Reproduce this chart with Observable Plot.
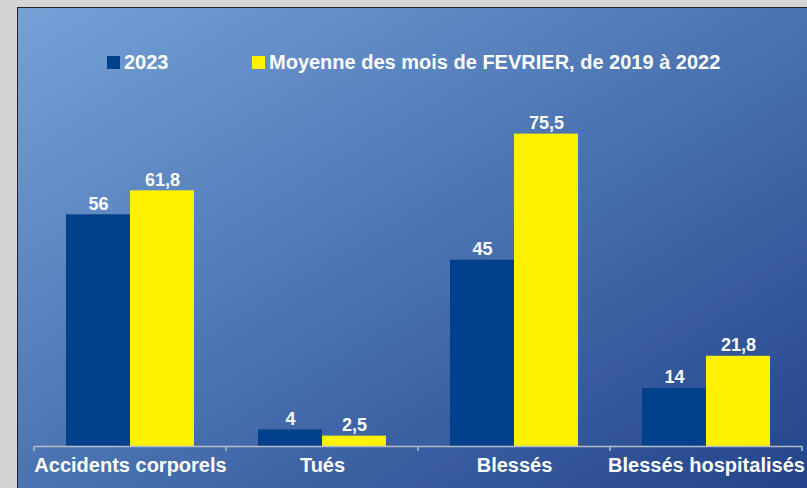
<!DOCTYPE html>
<html>
<head>
<meta charset="utf-8">
<script src="https://cdn.jsdelivr.net/npm/d3@7"></script>
<script src="https://cdn.jsdelivr.net/npm/@observablehq/plot@0.6"></script>
<style>
  html, body { margin: 0; padding: 0; }
  body { width: 807px; height: 488px; background: #d4d4d4; position: relative; overflow: hidden; font-family: "Liberation Sans", Arial, sans-serif; }
  #panel { position: absolute; left: 17px; top: 7px; width: 800px; height: 490px; border-left: 1px solid #222; border-top: 1px solid #222;
    background: linear-gradient(to bottom right, #74a2d7, #21428a); }
  #chart { position: absolute; left: 0; top: 0; }
  .leg { position: absolute; top: 51px; height: 22px; display: flex; align-items: center; color: #fff; font-weight: bold; font-size: 20px; white-space: nowrap; }
  .sw { width: 13px; height: 13px; margin-right: 4px; }
</style>
</head>
<body>
<div id="panel"></div>
<div id="chart"></div>
<div class="leg" style="left:107px"><div class="sw" style="background:#01408a"></div>2023</div>
<div class="leg" style="left:252px"><div class="sw" style="background:#fff200"></div>Moyenne des mois de FEVRIER, de 2019 à 2022</div>
<script>
const categories = ["Accidents corporels", "Tués", "Blessés", "Blessés hospitalisés"];
const seriesNames = ["2023", "Moyenne des mois de FEVRIER, de 2019 à 2022"];
const values2023 = [56, 4, 45, 14];
const valuesMoyenne = [61.8, 2.5, 75.5, 21.8];
const colors = ["#01408a", "#fff200"];

const data = [];
categories.forEach((c, i) => {
  data.push({cat: c, series: seriesNames[0], value: values2023[i]});
  data.push({cat: c, series: seriesNames[1], value: valuesMoyenne[i]});
});
const fmt = v => String(v).replace(".", ",");

const plot = Plot.plot({
  width: 807,
  height: 488,
  marginLeft: 33,
  marginRight: 4,
  marginTop: 115,
  marginBottom: 42,
  style: {background: "transparent", fontFamily: "Liberation Sans, Arial, sans-serif", overflow: "visible"},
  fx: {domain: categories, padding: 0, axis: null},
  x: {domain: seriesNames, paddingInner: 0, paddingOuter: 0.492, axis: null},
  y: {domain: [0, 80], axis: null},
  color: {domain: seriesNames, range: colors},
  marks: [
    Plot.barY(data, {fx: "cat", x: "series", y: "value", fill: "series", inset: 0}),
    Plot.text(data, {fx: "cat", x: "series", y: "value", text: d => fmt(d.value), dy: -11, lineAnchor: "middle",
      fill: "white", fontSize: 18, fontWeight: "bold"}),
    Plot.ruleY([0], {stroke: "#b4bccb", strokeWidth: 1.5}),
    Plot.axisFx({anchor: "bottom", tickSize: 0, tickPadding: 11, fontSize: 20, fontWeight: "bold", fill: "white", label: null})
  ]
});
document.getElementById("chart").appendChild(plot);

// boundary ticks between categories, from the fx scale
const fx = plot.scale("fx");
const y = plot.scale("y");
const y0 = y.apply(0);
const bounds = categories.map(c => fx.apply(c)).concat([fx.apply(categories[categories.length - 1]) + fx.bandwidth]);
d3.select(plot).append("g")
  .selectAll("line").data(bounds).join("line")
  .attr("x1", d => d).attr("x2", d => d)
  .attr("y1", y0).attr("y2", y0 + 5)
  .attr("stroke", "#b4bccb").attr("stroke-width", 1.5);
</script>
</body>
</html>
